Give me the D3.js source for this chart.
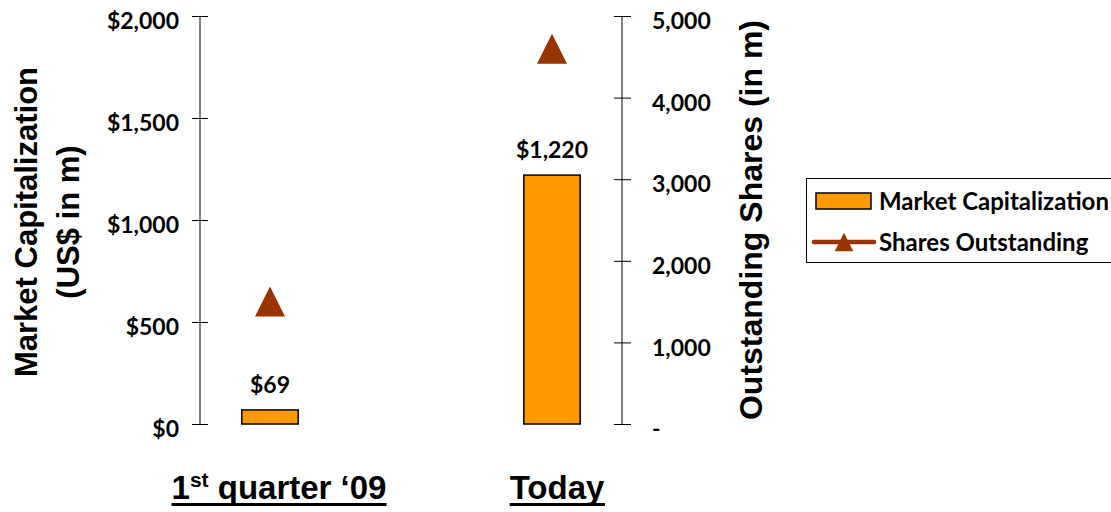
<!DOCTYPE html>
<html>
<head>
<meta charset="utf-8">
<script src="https://cdn.jsdelivr.net/npm/d3@7"></script>
<style>
  html, body { margin: 0; padding: 0; background: #fff; }
  svg { display: block; }
</style>
</head>
<body>
<svg id="chart" width="1111" height="512"></svg>
<script>
// ---- data ----
const categories = ["1st quarter '09", "Today"];
const marketCap = [69, 1220];          // US$ in m (left axis)
const sharesOutstanding = [1500, 4600]; // in m (right axis)
const leftTicks = [0, 500, 1000, 1500, 2000];
const rightTicks = [0, 1000, 2000, 3000, 4000, 5000];
const seriesNames = ["Market Capitalization", "Shares Outstanding"];

const barColor = "#FF9900";
const triColor = "#993300";
const numFont = "Lato, 'Open Sans', sans-serif";
const titleFont = "'Liberation Sans', Arial, sans-serif";

const svg = d3.select("#chart");

const x = d3.scaleBand().domain(categories).range([129, 693]);
const yL = d3.scaleLinear().domain([0, 2000]).range([424, 16]);
const yR = d3.scaleLinear().domain([0, 5000]).range([424, 16]);

// isosceles triangle symbol (width == height)
const isoTri = {
  draw(ctx, size) {
    const h = Math.sqrt(size);
    ctx.moveTo(0, -h / 2);
    ctx.lineTo(h / 2, h / 2);
    ctx.lineTo(-h / 2, h / 2);
    ctx.closePath();
  }
};

// ---- left axis ----
const axL = svg.append("g").attr("transform", "translate(200,0)")
  .call(d3.axisLeft(yL).tickValues(leftTicks).tickSize(8).tickSizeOuter(0)
    .tickFormat(d => "$" + d3.format(",")(d)).tickPadding(13));
axL.selectAll(".tick line").attr("x2", 8).attr("x1", -8).attr("stroke", "#000");
axL.select(".domain").attr("d", `M0,${yL(0)}V${yL(2000)}`).attr("stroke", "#000");
axL.selectAll(".tick text").attr("font-family", numFont).attr("font-weight", 700)
  .attr("font-size", 23).attr("fill", "#000").attr("x", -21).attr("dy", "0.55em");

// ---- right axis ----
const axR = svg.append("g").attr("transform", "translate(622,0)")
  .call(d3.axisRight(yR).tickValues(rightTicks).tickSize(8).tickSizeOuter(0)
    .tickFormat(d => d === 0 ? "-" : d3.format(",")(d)));
axR.selectAll(".tick line").attr("x1", -8).attr("x2", 9).attr("stroke", "#000");
axR.select(".domain").attr("d", `M0,${yR(0)}V${yR(5000)}`).attr("stroke", "#000");
axR.selectAll(".tick text").attr("font-family", numFont).attr("font-weight", 700)
  .attr("font-size", 23).attr("fill", "#000").attr("x", 30).attr("dy", "0.55em");

// ---- bars ----
const bw = x.bandwidth() * 0.2;
svg.append("g").selectAll("rect").data(categories).join("rect")
  .attr("x", (d) => x(d) + x.bandwidth() / 2 - bw / 2)
  .attr("y", (d, i) => yL(marketCap[i]))
  .attr("width", bw)
  .attr("height", (d, i) => yL(0) - yL(marketCap[i]))
  .attr("fill", barColor).attr("stroke", "#000").attr("stroke-width", 1.5);

// bar labels
svg.append("g").selectAll("text").data(categories).join("text")
  .attr("x", (d) => x(d) + x.bandwidth() / 2)
  .attr("y", (d, i) => yL(marketCap[i]) - 17)
  .attr("text-anchor", "middle")
  .attr("font-family", numFont).attr("font-weight", 700).attr("font-size", 23)
  .text((d, i) => "$" + d3.format(",")(marketCap[i]));

// ---- triangles (shares outstanding) ----
svg.append("g").selectAll("path").data(categories).join("path")
  .attr("transform", (d, i) => `translate(${x(d) + x.bandwidth() / 2},${yR(sharesOutstanding[i])})`)
  .attr("d", d3.symbol(isoTri, 900))
  .attr("fill", triColor);

// ---- axis titles ----
const lt = svg.append("text")
  .attr("transform", "translate(0,222) rotate(-90)")
  .attr("text-anchor", "middle")
  .attr("font-family", titleFont).attr("font-weight", 700).attr("font-size", 31);
lt.append("tspan").attr("x", 0).attr("y", 37).text("Market Capitalization");
lt.append("tspan").attr("x", 0).attr("y", 79).text("(US$ in m)");

svg.append("text")
  .attr("transform", "translate(762,220) rotate(-90)")
  .attr("text-anchor", "middle")
  .attr("font-family", titleFont).attr("font-weight", 700).attr("font-size", 32)
  .text("Outstanding Shares (in m)");

// ---- category labels ----
const catG = svg.append("g");
catG.selectAll("text").data(categories).join("text")
  .attr("x", d => x(d) + x.bandwidth() / 2 + (d === categories[0] ? 9 : 5))
  .attr("y", 499)
  .attr("text-anchor", "middle")
  .attr("font-family", titleFont).attr("font-weight", 700).attr("font-size", 33)
  .each(function(d) {
    const t = d3.select(this);
    const m = d.match(/^(\d+)(st|nd|rd|th) (.*)$/);
    if (m) {
      t.append("tspan").text(m[1]);
      t.append("tspan").attr("font-size", 21).attr("dy", -12).text(m[2]);
      t.append("tspan").attr("dy", 12).text(" " + m[3].replace("'", "\u2018"));
    } else {
      t.text(d);
    }
  })
  .each(function() {
    const bb = this.getBBox();
    catG.append("line")
      .attr("x1", bb.x).attr("x2", bb.x + bb.width)
      .attr("y1", 504.5).attr("y2", 504.5)
      .attr("stroke", "#000").attr("stroke-width", 3);
  });

// ---- legend ----
const lg = svg.append("g");
lg.append("rect").attr("x", 806.5).attr("y", 178.5).attr("width", 330).attr("height", 84)
  .attr("fill", "#fff").attr("stroke", "#000").attr("stroke-width", 1);
lg.append("rect").attr("x", 816).attr("y", 193).attr("width", 55).attr("height", 16)
  .attr("fill", barColor).attr("stroke", "#000").attr("stroke-width", 1.5);
lg.append("line").attr("x1", 814).attr("x2", 874).attr("y1", 242).attr("y2", 242)
  .attr("stroke", triColor).attr("stroke-width", 4.5).attr("stroke-linecap", "round");
lg.append("path").attr("transform", "translate(844,242)")
  .attr("d", d3.symbol(isoTri, 340)).attr("fill", triColor);
lg.selectAll("text.lt").data(seriesNames).join("text")
  .attr("class", "lt")
  .attr("x", 879).attr("y", (d, i) => i === 0 ? 210 : 251)
  .attr("font-family", numFont).attr("font-weight", 700).attr("font-size", 24)
  .text(d => d);
</script>
</body>
</html>
